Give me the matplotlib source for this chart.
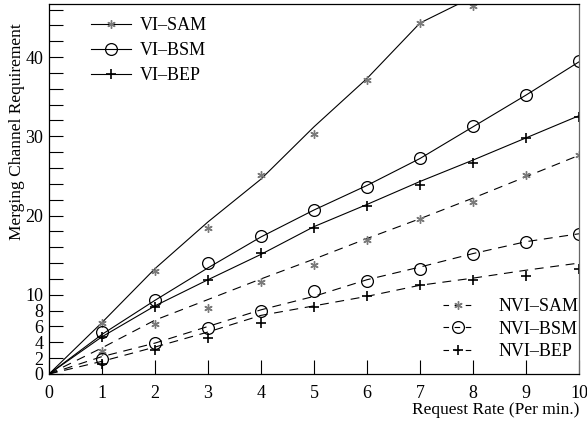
import matplotlib
matplotlib.use("Agg")
import matplotlib.pyplot as plt
from matplotlib.lines import Line2D

plt.rcParams['font.family'] = ['Liberation Serif', 'DejaVu Serif']

# ---- data ----
x_pts = [1, 2, 3, 4, 5, 6, 7, 8, 9, 10]
x_line = [0, 1, 2, 3, 4, 5, 6, 7, 8, 9, 10]

vi_sam_pts = [6.5, 13.0, 18.4, 25.1, 30.3, 37.1, 44.3, 46.4, 49.5, 52.0]
vi_sam_line = [0, 6.5, 13.3, 19.2, 24.6, 31.2, 37.3, 44.3, 47.6, 50.0, 52.5]

vi_bsm_pts = [5.3, 9.4, 14.0, 17.4, 20.7, 23.6, 27.2, 31.3, 35.2, 39.5]
vi_bsm_line = [0, 5.0, 9.3, 13.4, 17.3, 20.7, 23.8, 27.2, 31.2, 35.2, 39.4]

vi_bep_pts = [4.7, 8.5, 11.9, 15.3, 18.4, 21.2, 23.8, 26.6, 29.8, 32.4]
vi_bep_line = [0, 4.7, 8.6, 11.9, 15.1, 18.6, 21.4, 24.3, 27.0, 29.8, 32.6]

nvi_sam_pts = [2.9, 6.3, 8.3, 11.6, 13.7, 16.9, 19.6, 21.7, 25.1, 27.6]
nvi_sam_line = [0, 3.3, 6.8, 9.4, 12.0, 14.5, 17.1, 19.6, 22.2, 24.9, 27.6]

nvi_bsm_pts = [1.9, 3.9, 5.8, 8.0, 10.5, 11.8, 13.2, 15.1, 16.6, 17.7]
nvi_bsm_line = [0, 2.2, 3.9, 6.0, 8.1, 9.8, 11.9, 13.5, 15.2, 16.7, 17.7]

nvi_bep_pts = [1.3, 3.0, 4.5, 6.5, 8.5, 9.8, 11.2, 11.9, 12.4, 13.2]
nvi_bep_line = [0, 1.6, 3.4, 5.3, 7.4, 8.6, 9.8, 11.2, 12.1, 13.1, 14.0]

x_ticks = [0, 1, 2, 3, 4, 5, 6, 7, 8, 9, 10]
y_labeled = [0, 2, 4, 6, 8, 10, 20, 30, 40]
y_minor = [12, 14, 16, 18, 22, 24, 26, 28, 32, 34, 36, 38, 42, 44, 46]

labels_vi = ['VI\u2013SAM', 'VI\u2013BSM', 'VI\u2013BEP']
labels_nvi = ['NVI\u2013SAM', 'NVI\u2013BSM', 'NVI\u2013BEP']

# ---- style ----
gray = '#7a7a7a'
ast = (6, 2, 0)
dash = (0, (8, 6))
lw = 0.8

fig = plt.figure(figsize=(5.87, 4.24), dpi=100)
ax = fig.add_axes([49/587, 50/424, 530/587, 370/424])

# lines
ax.plot(x_line, vi_sam_line, color='black', lw=lw)
ax.plot(x_line, vi_bsm_line, color='black', lw=lw)
ax.plot(x_line, vi_bep_line, color='black', lw=lw)
ax.plot(x_line, nvi_sam_line, color='black', lw=lw, ls=dash)
ax.plot(x_line, nvi_bsm_line, color='black', lw=lw, ls=dash)
ax.plot(x_line, nvi_bep_line, color='black', lw=lw, ls=dash)

# markers
ms_ast, ms_c, ms_p = 6, 8.5, 7
for pts in (vi_sam_pts, nvi_sam_pts):
    ax.plot(x_pts, pts, ls='none', marker=ast, ms=ms_ast, mec=gray, mew=1.0)
for pts in (vi_bsm_pts, nvi_bsm_pts):
    ax.plot(x_pts, pts, ls='none', marker='o', ms=ms_c, mfc='none', mec='black', mew=0.9)
for pts in (vi_bep_pts, nvi_bep_pts):
    ax.plot(x_pts, pts, ls='none', marker='+', ms=ms_p, mec='black', mew=1.2)

ax.set_xlim(0, 10)
ax.set_ylim(0, 46.7)

ax.set_xticks(x_ticks)
ax.set_yticks(y_labeled)
ax.set_yticks(y_minor, minor=True)
ax.tick_params(axis='x', direction='in', length=10, width=0.8, labelsize=13,
               pad=8, top=False)
ax.tick_params(axis='y', which='both', direction='in', length=10, width=0.8,
               labelsize=13, pad=4, right=False)

for s in ax.spines.values():
    s.set_linewidth(0.9)
ax.spines['right'].set_color('#666666')

ax.set_xlabel('Request Rate (Per min.)', fontsize=12.5, loc='right', labelpad=0)
ax.set_ylabel('Merging Channel Requirement', fontsize=12.5)
ax.yaxis.set_label_coords((25 - 49) / 530, (424 - 132 - 50) / 370)

# legends
h_vi = [Line2D([], [], color='black', lw=lw, marker=ast, ms=ms_ast, mec=gray, mew=1.0),
        Line2D([], [], color='black', lw=lw, marker='o', ms=ms_c, mfc='none', mec='black', mew=0.9),
        Line2D([], [], color='black', lw=lw, marker='+', ms=ms_p, mec='black', mew=1.2)]
h_nvi = [Line2D([], [], color='black', lw=lw, ls=(0, (5, 5)), marker=ast, ms=ms_ast, mec=gray, mew=1.0),
         Line2D([], [], color='black', lw=lw, ls=(0, (5, 5)), marker='o', ms=ms_c, mfc='none', mec='black', mew=0.9),
         Line2D([], [], color='black', lw=lw, ls=(0, (5, 5)), marker='+', ms=ms_p, mec='black', mew=1.2)]

leg1 = ax.legend(h_vi, labels_vi, loc='upper left',
                 bbox_to_anchor=((91 - 49) / 530, (424 - 17 - 50) / 370),
                 frameon=False, fontsize=13, handlelength=2.2, handletextpad=0.5,
                 labelspacing=0.45, borderpad=0, borderaxespad=0)
ax.add_artist(leg1)
leg2 = ax.legend(h_nvi, labels_nvi, loc='lower right',
                 bbox_to_anchor=(1.0, (424 - 360 - 50) / 370),
                 frameon=False, fontsize=13, handlelength=1.7, handletextpad=1.4,
                 labelspacing=0.3, borderpad=0, borderaxespad=0)

fig.savefig('out.png', dpi=100)
